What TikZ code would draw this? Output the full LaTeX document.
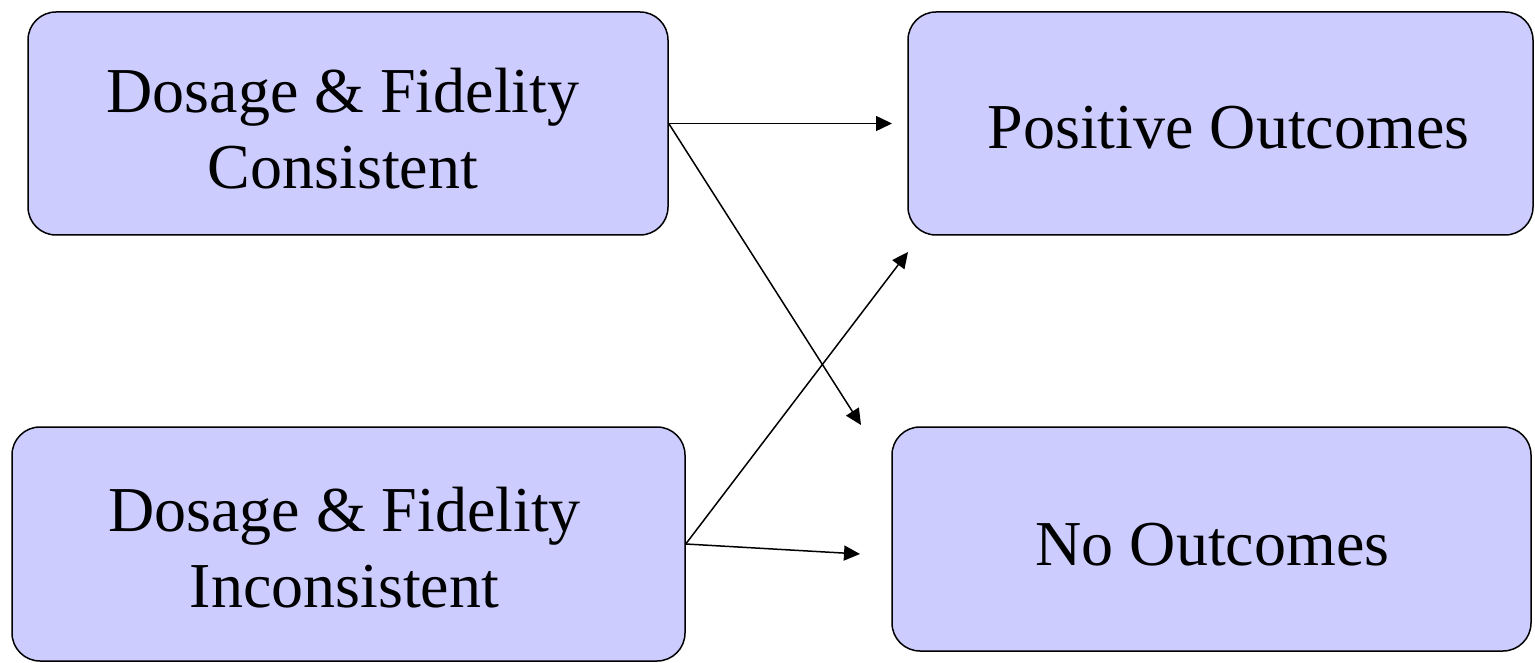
\documentclass[tikz,border=0pt]{standalone}
\usepackage{fontspec}
\setmainfont{Liberation Serif}
\usetikzlibrary{arrows.meta}
\definecolor{boxfill}{RGB}{204,204,255}
\tikzset{
  flowbox/.style={draw=black, line width=1.5pt, fill=boxfill, rounded corners=28pt,
    inner sep=0pt},
  boxtext/.style={align=center, inner sep=0pt, font=\fontsize{64}{76}\selectfont},
  link/.style={line width=1.5pt, -{Triangle[length=16pt,width=15pt]}}
}
\begin{document}
\begin{tikzpicture}[x=1pt,y=-1pt]
  \useasboundingbox (0,0) rectangle (1535,663);
  % condition boxes
  \node[flowbox, minimum width=640pt, minimum height=223pt] (cons) at (348,123.5) {};
  \node[flowbox, minimum width=673pt, minimum height=234pt] (incons) at (348.5,544) {};
  % outcome boxes
  \node[flowbox, minimum width=625pt, minimum height=223pt] (pos) at (1220.5,123.5) {};
  \node[flowbox, minimum width=639pt, minimum height=224pt] (none) at (1211.5,539) {};
  % box captions
  \node[boxtext] (cons-text) at ([shift={(-5,5)}]cons.center)
    {Dosage \& Fidelity\\Consistent};
  \node[boxtext] (incons-text) at ([shift={(-4,4)}]incons.center)
    {Dosage \& Fidelity\\Inconsistent};
  \node[boxtext] (pos-text) at ([shift={(8,4)}]pos.center) {Positive Outcomes};
  \node[boxtext] (none-text) at ([shift={(1,6)}]none.center) {No Outcomes};
  % arrow tips stop short of the outcome boxes
  \coordinate (posA) at (892,123.5);
  \coordinate (posB) at (908,252);
  \coordinate (noneA) at (861,425);
  \coordinate (noneB) at (860,554);
  \draw[link] (cons.east) -- (posA);
  \draw[link] (cons.east) -- (noneA);
  \draw[link] (incons.east) -- (posB);
  \draw[link] (incons.east) -- (noneB);
\end{tikzpicture}
\end{document}
